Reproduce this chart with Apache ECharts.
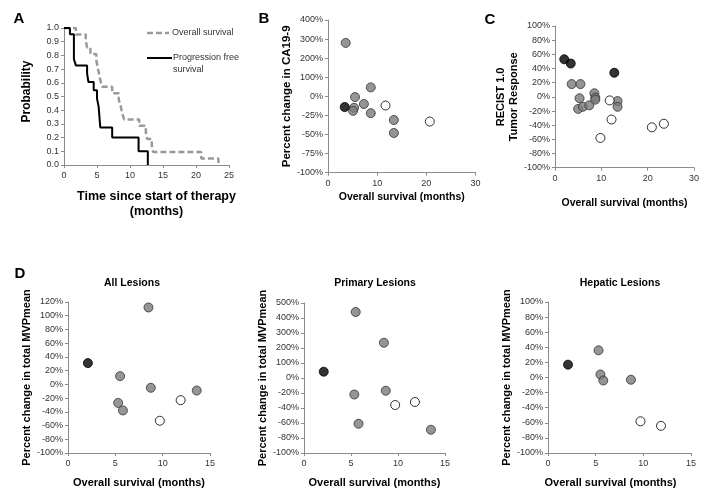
<!DOCTYPE html>
<html><head><meta charset="utf-8">
<script src="https://cdn.jsdelivr.net/npm/echarts@6/dist/echarts.min.js"></script>
<style>html,body{margin:0;padding:0;background:#fff}#c{width:713px;height:503px}</style>
</head><body><div id="c"></div>
<script>
// Panel A: Kaplan-Meier steps [months, probability]
const osSteps = [[0,1],[1.8,0.952],[3.3,0.905],[3.5,0.857],[4.0,0.81],[4.9,0.762],[5.1,0.714],[5.3,0.667],[5.5,0.619],[5.8,0.571],[7.3,0.524],[8.3,0.476],[8.6,0.429],[8.8,0.381],[9.1,0.333],[11.4,0.286],[12.4,0.238],[12.6,0.19],[13.3,0.143],[13.5,0.095],[20.8,0.048],[23.4,0]];
const pfsSteps = [[0,1],[0.9,0.955],[1.5,0.773],[1.8,0.727],[3.5,0.667],[3.7,0.606],[4.5,0.545],[5.0,0.485],[5.25,0.424],[5.5,0.273],[7.3,0.2],[11.3,0.1],[12.7,0]];
// Panel B: CA19-9 [OS months, % change]
const bGray = [[3.6,280],[5.5,-1],[8.7,47],[5.3,-15],[5.1,-19],[7.3,-10],[8.7,-22],[13.4,-31],[13.4,-48]];
const bBlack = [[3.4,-14]];
const bWhite = [[11.7,-12],[20.7,-33]];
const bTicks = ['-100%','-75%','-50%','-25%','0%','100%','200%','300%','400%'];
// Panel C: RECIST
const cGray = [[3.6,18],[5.5,18],[5.3,-2],[5.0,-17],[6.0,-14],[7.4,-12],[8.5,5],[8.7,-1],[8.7,-4],[13.5,-6],[13.5,-14]];
const cBlack = [[2.0,53],[3.4,47],[12.8,34]];
const cWhite = [[11.8,-5],[12.2,-32],[9.8,-58],[20.9,-43],[23.5,-38]];
// Panel D
const dAllGray = [[8.5,112],[5.5,12],[8.75,-5],[13.6,-9],[5.3,-27],[5.8,-38]];
const dAllBlack = [[2.1,31]];
const dAllWhite = [[11.9,-23],[9.7,-53]];
const dPriGray = [[5.5,440],[8.5,235],[5.35,-22],[8.7,-17],[5.8,-61],[13.5,-69]];
const dPriBlack = [[2.1,42]];
const dPriWhite = [[9.7,-36],[11.8,-32]];
const dPriTicks = ['-100%','-80%','-60%','-40%','-20%','0%','100%','200%','300%','400%','500%'];
const dHepGray = [[5.3,36],[5.5,4],[5.8,-4],[8.7,-3]];
const dHepBlack = [[2.1,17]];
const dHepWhite = [[9.7,-58],[11.85,-64]];

const FONT = 'Liberation Sans, Arial, sans-serif';
const bMap = v => v >= 0 ? 4 + v/100 : 4 + v/25;
const pMap = v => v >= 0 ? 5 + v/100 : 5 + v/20;
const remap = (arr, f) => arr.map(d => [d[0], f(d[1])]);

const axisLineStyle = {onZero:false, lineStyle:{color:'#8c8c8c', width:1}};
const tickStyle = {show:true, inside:false, length:3, lineStyle:{color:'#8c8c8c'}};
const lbl = (m) => ({fontFamily:FONT, fontSize:9, color:'#333', margin:m});
const nameStyle = {fontFamily:FONT, fontSize:11, fontWeight:'bold', color:'#000', lineHeight:13};

function xAx(grid, max, interval, name, gap, extra) {
  return {type:'value', gridIndex:grid, min:0, max:max, interval:interval,
    axisLine:axisLineStyle, axisTick:tickStyle, splitLine:{show:false},
    axisLabel:lbl(6), name:name, nameLocation:'middle', nameGap:gap,
    nameTextStyle:Object.assign({}, nameStyle, extra||{})};
}
function yAx(grid, min, max, interval, fmt, name, gap, extra) {
  return {type:'value', gridIndex:grid, min:min, max:max, interval:interval,
    axisLine:axisLineStyle, axisTick:tickStyle, splitLine:{show:false},
    axisLabel:Object.assign(lbl(5), {formatter:fmt}), name:name, nameLocation:'middle',
    nameGap:gap, nameRotate:90, nameTextStyle:Object.assign({}, nameStyle, extra||{})};
}
const pct = v => Math.round(v) + '%';

const styles = {
  gray:{color:'#7a7a7a', borderColor:'#333', borderWidth:1},
  black:{color:'#000', borderColor:'#000', borderWidth:1},
  white:{color:'#fff', borderColor:'#000', borderWidth:1}
};
function sc(idx, data, kind) {
  return {type:'scatter', xAxisIndex:idx, yAxisIndex:idx, data:data, symbolSize:9,
    itemStyle:styles[kind], z: kind==='gray'?3:4};
}

const grids = [
  {left:64, top:28, width:165, height:137},
  {left:328, top:20, width:147.5, height:152.7},
  {left:555, top:26, width:139, height:141.7},
  {left:68, top:302, width:142, height:151},
  {left:304, top:303, width:141, height:150},
  {left:548, top:302, width:143, height:151}
];

const option = {
  animation:false,
  backgroundColor:'#fff',
  grid:grids,
  xAxis:[
    xAx(0, 25, 5, 'Time since start of therapy\n(months)', 24, {fontSize:12.5, lineHeight:15, padding:[0,0,0,20]}),
    xAx(1, 30, 10, 'Overall survival (months)', 18, {fontSize:10.5}),
    xAx(2, 30, 10, 'Overall survival (months)', 29, {fontSize:10.5}),
    xAx(3, 15, 5, 'Overall survival (months)', 23),
    xAx(4, 15, 5, 'Overall survival (months)', 23),
    xAx(5, 15, 5, 'Overall survival (months)', 23, {padding:[0,18,0,0]})
  ],
  yAxis:[
    yAx(0, 0, 1, 0.1, v => v.toFixed(1), 'Probability', 31, {fontSize:12, padding:[0,0,0,10]}),
    yAx(1, 0, 8, 1, v => bTicks[Math.round(v)], 'Percent change in CA19-9', 35, {fontSize:11.5}),
    yAx(2, -100, 100, 20, pct, 'RECIST 1.0\nTumor Response', 34),
    yAx(3, -100, 120, 20, pct, 'Percent change in total MVPmean', 31),
    yAx(4, 0, 10, 1, v => dPriTicks[Math.round(v)], 'Percent change in total MVPmean', 32),
    yAx(5, -100, 100, 20, pct, 'Percent change in total MVPmean', 35)
  ],
  series:[
    {type:'line', xAxisIndex:0, yAxisIndex:0, data:osSteps, step:'end', symbol:'none',
      lineStyle:{color:'#9a9a9a', width:2.5, type:[6,3]}},
    {type:'line', xAxisIndex:0, yAxisIndex:0, data:pfsSteps, step:'end', symbol:'none',
      lineStyle:{color:'#000', width:2}},
    sc(1, remap(bGray,bMap), 'gray'), sc(1, remap(bBlack,bMap), 'black'), sc(1, remap(bWhite,bMap), 'white'),
    sc(2, cGray, 'gray'), sc(2, cBlack, 'black'), sc(2, cWhite, 'white'),
    sc(3, dAllGray, 'gray'), sc(3, dAllBlack, 'black'), sc(3, dAllWhite, 'white'),
    sc(4, remap(dPriGray,pMap), 'gray'), sc(4, remap(dPriBlack,pMap), 'black'), sc(4, remap(dPriWhite,pMap), 'white'),
    sc(5, dHepGray, 'gray'), sc(5, dHepBlack, 'black'), sc(5, dHepWhite, 'white')
  ],
  graphic:[
    {type:'text', x:19, y:19, style:{text:'A', font:'bold 15px '+FONT, fill:'#000', align:'center', verticalAlign:'middle'}},
    {type:'text', x:264, y:19, style:{text:'B', font:'bold 15px '+FONT, fill:'#000', align:'center', verticalAlign:'middle'}},
    {type:'text', x:490, y:20, style:{text:'C', font:'bold 15px '+FONT, fill:'#000', align:'center', verticalAlign:'middle'}},
    {type:'text', x:20, y:274, style:{text:'D', font:'bold 15px '+FONT, fill:'#000', align:'center', verticalAlign:'middle'}},
    {type:'text', x:132, y:283, style:{text:'All Lesions', font:'bold 10.5px '+FONT, fill:'#000', align:'center', verticalAlign:'middle'}},
    {type:'text', x:375, y:283, style:{text:'Primary Lesions', font:'bold 10.5px '+FONT, fill:'#000', align:'center', verticalAlign:'middle'}},
    {type:'text', x:620, y:283, style:{text:'Hepatic Lesions', font:'bold 10.5px '+FONT, fill:'#000', align:'center', verticalAlign:'middle'}},
    {type:'line', shape:{x1:147, y1:33, x2:169, y2:33}, style:{stroke:'#9a9a9a', lineWidth:2.5, lineDash:[6,3]}},
    {type:'text', x:172, y:33, style:{text:'Overall survival', font:'9px '+FONT, fill:'#333', align:'left', verticalAlign:'middle'}},
    {type:'line', shape:{x1:147, y1:58, x2:172, y2:58}, style:{stroke:'#000', lineWidth:2}},
    {type:'text', x:173, y:64, style:{text:'Progression free\nsurvival', font:'9px '+FONT, lineHeight:12, fill:'#333', align:'left', verticalAlign:'middle'}}
  ]
};
echarts.init(document.getElementById('c'), null, {renderer:'canvas'}).setOption(option);
</script>
</body></html>
